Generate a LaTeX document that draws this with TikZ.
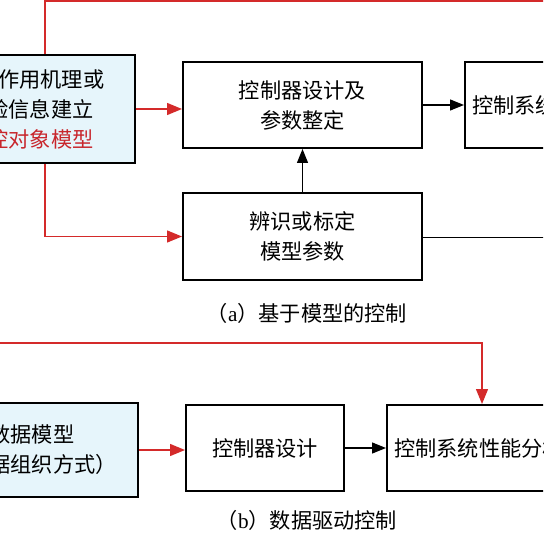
\documentclass[tikz,border=0pt]{standalone}
\usepackage{fontspec}
\setmainfont{Liberation Serif}
\newfontfamily\cjk{Noto Sans CJK SC}
\usetikzlibrary{arrows.meta,calc}
\definecolor{boxblue}{HTML}{E6F5FB}
\definecolor{linered}{HTML}{D42A2A}
\definecolor{textred}{HTML}{C8262C}

\begin{document}
\begin{tikzpicture}[x=0.5pt,y=-0.5pt,
            every node/.style={font=\cjk\fontsize{10.6}{15}\selectfont,align=center,inner sep=0pt},
            box/.style={draw=black,line width=1pt,fill=white},
            bluebox/.style={box,fill=boxblue},
            redarr/.style={draw=linered,line width=0.7pt,-{Triangle[length=7.5pt,width=6pt]},linered},
            redline/.style={draw=linered,line width=0.7pt},
            blkarr/.style={draw=black,line width=0.6pt,-{Triangle[length=7pt,width=5.5pt]}}]
  \path[use as bounding box] (0,0) rectangle (543,544);
  \clip (0,0) rectangle (543,544);

  % (a) model based
  \node[bluebox,minimum width=105pt,minimum height=54pt] (model) at (30,109)
    {根据作用机理或\\先验信息建立\\\textcolor{textred}{被控对象模型}};
  \node[box,minimum width=119.5pt,minimum height=43pt] (design) at (302.5,105)
    {控制器设计及\\参数整定};
  \node[box,minimum width=92pt,minimum height=43pt] (perfa) at (557,105)
    {控制系统性能分析};
  \node[box,minimum width=119.5pt,minimum height=43.5pt] (ident) at (302.5,236.5)
    {辨识或标定\\模型参数};
  \coordinate (topturn) at (45,1);
  \coordinate (topend) at (600,1);
  \coordinate (identout) at (600,237.5);

  \draw[redline] (topturn |- model.north) -- (topturn) -- (topend);
  \draw[redarr] (model.east) -- (design.west |- model.east);
  \draw[blkarr] (design) -- (perfa);
  \draw[blkarr] (ident) -- (design);
  \draw[redarr] (topturn |- model.south) |- (ident.west);
  \draw[line width=0.6pt] (ident.east |- identout) -- (identout);

  \node (capa) at (307,313) {{\cjk （}\rmfamily a{\cjk ）基于模型的控制}};

  % (b) data driven
  \node[bluebox,minimum width=106pt,minimum height=47pt] (data) at (32,450)
    {数据模型\\（数据组织方式）};
  \node[box,minimum width=79pt,minimum height=43pt] (ctrl) at (265,448)
    {控制器设计};
  \node[box,minimum width=92pt,minimum height=43pt] (perfb) at (479,448)
    {控制系统性能分析};
  \coordinate (bstart) at (-20,343);
  \coordinate (bturn) at (482,343);

  \draw[redarr] (bstart) -- (bturn) -- (bturn |- perfb.north);
  \draw[redarr] (data.east) -- (ctrl.west |- data.east);
  \draw[blkarr] (ctrl) -- (perfb);

  \node (capb) at (307,520) {{\cjk （}\rmfamily b{\cjk ）数据驱动控制}};
\end{tikzpicture}
\end{document}
